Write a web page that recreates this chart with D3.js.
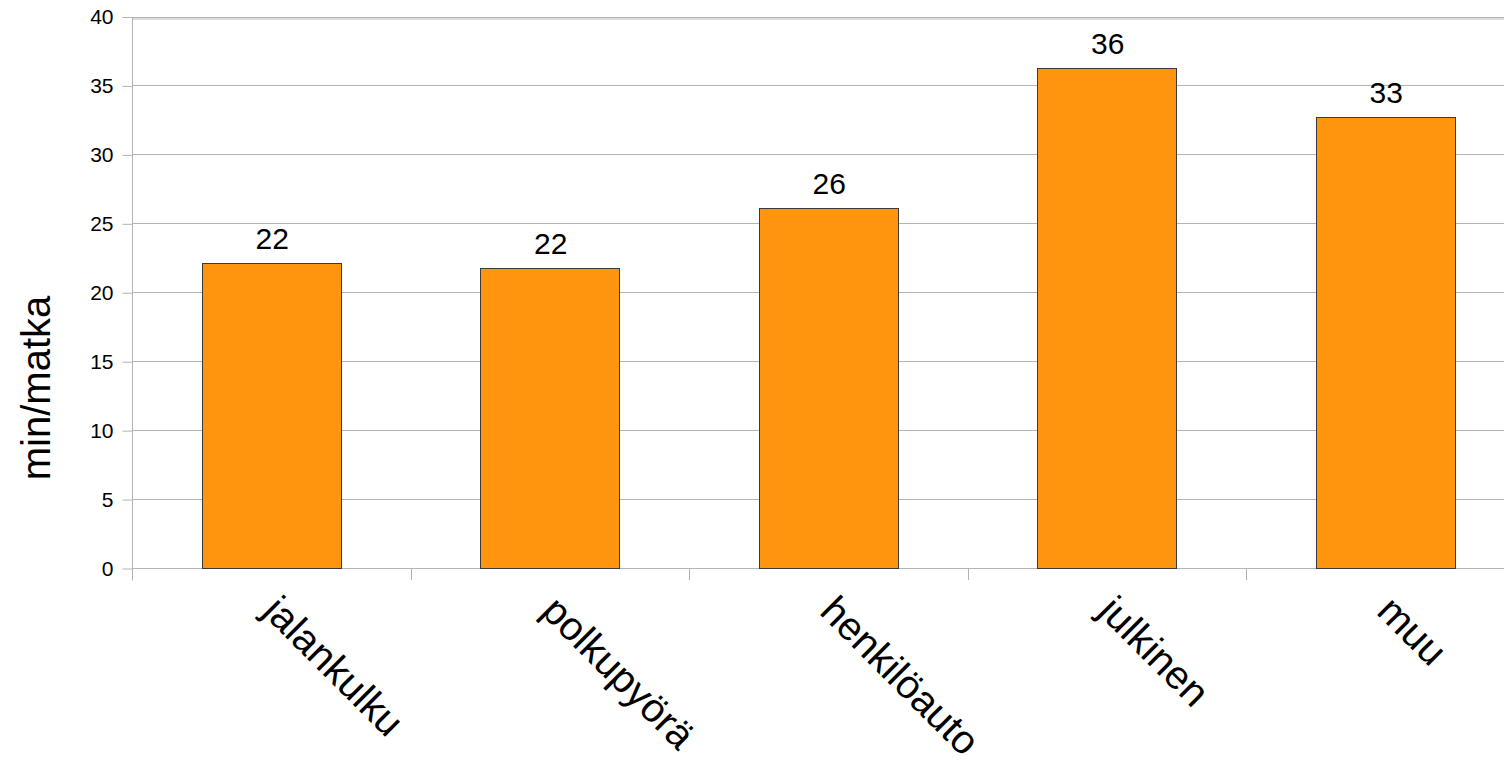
<!DOCTYPE html>
<html><head><meta charset="utf-8">
<script src="https://cdn.jsdelivr.net/npm/d3@7"></script>
<style>html,body{margin:0;padding:0;background:#fff;overflow:hidden}</style>
</head><body>
<svg id="c" width="1504" height="763"></svg>
<script>
const categories = ["jalankulku","polkupyörä","henkilöauto","julkinen","muu"];
const values = [22.1, 21.75, 26.1, 36.3, 32.7];
const valueLabels = ["22","22","26","36","33"];
const yTicks = [0,5,10,15,20,25,30,35,40];
const yTitle = "min/matka";

(function(){
const svg = d3.select("#c");
const pLeft = 132, pTop = 16.5, pBottom = 568;
const band = 278.5;
const x = d3.scaleBand().domain(categories).range([pLeft, pLeft + band*categories.length]).paddingInner(0).paddingOuter(0);
const y = d3.scaleLinear().domain([0,40]).range([pBottom, pTop]);
const font = "'Liberation Sans', Arial, sans-serif";
const grid = "#b3b3b3";

// gridlines
svg.append("g").selectAll("line").data(yTicks).join("line")
  .attr("x1", pLeft).attr("x2", 1504)
  .attr("y1", d => Math.round(y(d))+0.5).attr("y2", d => Math.round(y(d))+0.5)
  .attr("stroke", grid).attr("stroke-width", 1);
svg.append("line").attr("x1", pLeft).attr("x2", 1504).attr("y1", 19).attr("y2", 19)
  .attr("stroke", "#dcdcdc").attr("stroke-width", 2);

// y axis
const yAxis = d3.axisLeft(y).tickValues(yTicks).tickSize(10).tickPadding(9);
const gy = svg.append("g").attr("transform", `translate(${pLeft+0.5},0.5)`).call(yAxis);
gy.select(".domain").attr("stroke", grid).attr("d", `M0,${pTop}V${pBottom+12}`);
gy.selectAll(".tick line").attr("stroke", grid);
gy.selectAll(".tick text").attr("font-family", font).attr("font-size", 21).attr("fill", "#000");

// x axis ticks at boundaries
const xb = categories.map((c,i) => pLeft + band*i);
svg.append("g").selectAll("line").data(xb.slice(1)).join("line")
  .attr("x1", d => Math.round(d)+0.5).attr("x2", d => Math.round(d)+0.5)
  .attr("y1", pBottom).attr("y2", pBottom+12).attr("stroke", grid);

// bars
const bw = 139;
svg.append("g").selectAll("rect").data(values).join("rect")
  .attr("x", (d,i) => Math.round(x(categories[i]) + x.bandwidth()/2 - bw/2)+0.5)
  .attr("y", d => Math.round(y(d))+0.5)
  .attr("width", bw)
  .attr("height", d => Math.round(pBottom) - Math.round(y(d)))
  .attr("fill", "#ff950e").attr("stroke", "#3a3a3a").attr("stroke-width", 1);

// value labels
svg.append("g").selectAll("text").data(values).join("text")
  .attr("x", (d,i) => x(categories[i]) + x.bandwidth()/2 + 1)
  .attr("y", d => y(d) - 14)
  .attr("text-anchor", "middle").attr("font-family", font).attr("font-size", 30).attr("fill", "#000")
  .text((d,i) => valueLabels[i]);

// category labels
svg.append("g").selectAll("text").data(categories).join("text")
  .attr("transform", c => `translate(${x(c) + x.bandwidth()/2 - 10},${613}) rotate(45)`)
  .attr("font-family", font).attr("font-size", 40).attr("fill", "#000")
  .text(c => c);

// y title
svg.append("text").attr("transform", `translate(50,388) rotate(-90)`)
  .attr("text-anchor", "middle").attr("font-family", font).attr("font-size", 40).attr("fill", "#000")
  .text(yTitle);
})();
</script>
</body></html>
